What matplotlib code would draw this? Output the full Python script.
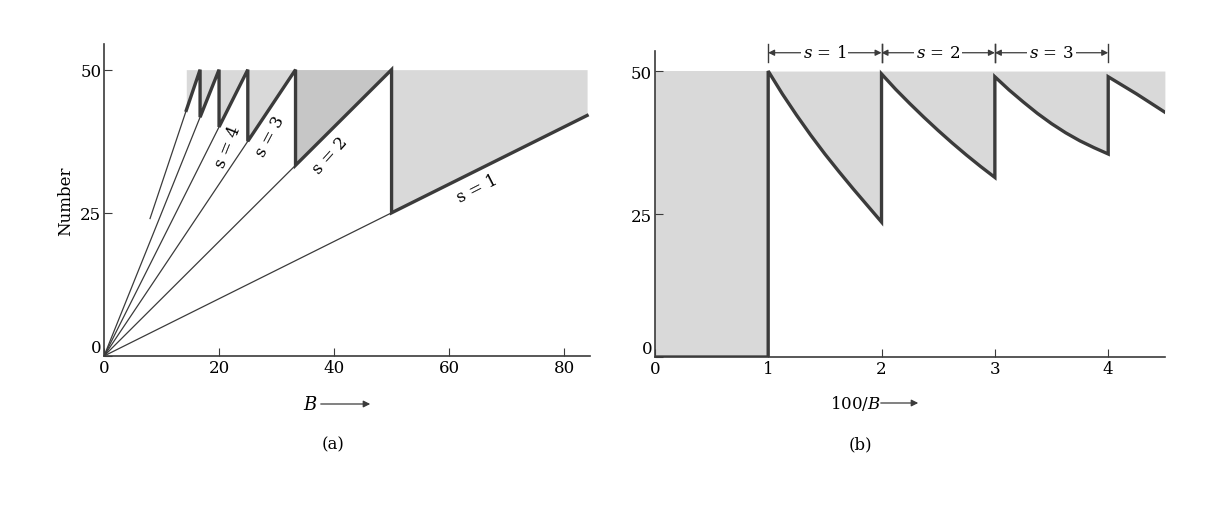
import numpy as np
import matplotlib
matplotlib.use("Agg")
import matplotlib.pyplot as plt

plt.rcParams['font.family'] = ['DejaVu Serif']
plt.rcParams['mathtext.fontset'] = 'dejavuserif'

# ---- panel (a): number vs B ----
# field values where a level empties, and number in filled levels there
B_jump = [50, 33.3, 25, 20, 16.7, 14.3]
N_low = [25, 33.3, 37.5, 40, 41.7, 42.9]
thin_start_B = [0, 0, 0, 0, 0, 8]
thin_start_N = [0, 0, 0, 0, 0, 24]
# sawtooth (heavy line)
saw_B = [14.3, 16.7, 16.7, 20, 20, 25, 25, 33.3, 33.3, 50, 50, 84]
saw_N = [42.9, 50, 41.7, 50, 40, 50, 37.5, 50, 33.3, 50, 25, 42]
a_labels = ['s = 1', 's = 2', 's = 3', 's = 4']
a_lab_B = [65, 39.3, 28.9, 21.6]
a_lab_N = [29.3, 35.2, 38.5, 36.7]
a_lab_rot = [27, 48, 62, 68]

# ---- panel (b): number vs 100/B ----
seg_x = [[1, 1.125, 1.25, 1.375, 1.5, 1.625, 1.75, 1.875, 2],
         [2, 2.125, 2.25, 2.375, 2.5, 2.625, 2.75, 2.875, 3],
         [3, 3.125, 3.25, 3.375, 3.5, 3.625, 3.75, 3.875, 4],
         [4, 4.125, 4.25, 4.375, 4.5]]
seg_y = [[50, 46.0, 42.3, 38.8, 35.5, 32.4, 29.4, 26.5, 23.6],
         [49.5, 46.8, 44.3, 41.9, 39.6, 37.4, 35.3, 33.3, 31.4],
         [49.0, 46.7, 44.6, 42.6, 40.8, 39.2, 37.8, 36.6, 35.5],
         [49.0, 47.5, 46.0, 44.4, 42.8]]
b_labels = ['$s$ = 1', '$s$ = 2', '$s$ = 3']

line_col = '#3b3b3b'
shade = '#d9d9d9'

fig = plt.figure(figsize=(12.24, 5.10), dpi=100)
ax1 = fig.add_axes([0.085, 0.30, 0.397, 0.612])
ax2 = fig.add_axes([0.535, 0.298, 0.4167, 0.60])

# panel a
ax1.fill_between(saw_B, saw_N, 50, color=shade, lw=0)
ax1.fill_between(saw_B[7:10], saw_N[7:10], 50, color='#c6c6c6', lw=0)
for i in range(len(B_jump)):
    ax1.plot([thin_start_B[i], B_jump[i]], [thin_start_N[i], N_low[i]],
             color=line_col, lw=0.9)
ax1.plot(saw_B, saw_N, color=line_col, lw=2.4, solid_joinstyle='miter')
for t, x, y, r in zip(a_labels, a_lab_B, a_lab_N, a_lab_rot):
    ax1.text(x, y, t, rotation=r, ha='center', va='center',
             rotation_mode='anchor', fontsize=12)
ax1.set_xlim(0, 84.5)
ax1.set_ylim(0, 54.5)
ax1.set_xticks([0, 20, 40, 60, 80])
ax1.set_yticks([0, 25, 50])
ax1.set_ylabel('Number', fontsize=12, labelpad=4)

# panel b
ax2.fill_between([0, 1], [0, 0], 50, color=shade, lw=0)
for xs, ys in zip(seg_x, seg_y):
    ax2.fill_between(xs, ys, 50, color=shade, lw=0)
px = [0, 1, 1]
py = [0, 0, 50]
for xs, ys in zip(seg_x, seg_y):
    if px[-1] == xs[0]:
        px.append(xs[0]); py.append(ys[0])
    px += xs
    py += ys
ax2.plot(px, py, color=line_col, lw=2.4, solid_joinstyle='miter')
for k in range(len(b_labels)):
    x0, x1 = k + 1, k + 2
    for xb in (x0, x1):
        ax2.plot([xb, xb], [51.5, 54.8], color=line_col, lw=1, clip_on=False)
    ax2.annotate('', xy=(x0, 53.2), xytext=(x1, 53.2), annotation_clip=False,
                 arrowprops=dict(arrowstyle='<|-|>', color=line_col, lw=0.9,
                                 shrinkA=0, shrinkB=0,
                                 mutation_scale=9))
    ax2.text((x0 + x1) / 2, 53.2, b_labels[k], ha='center', va='center',
             fontsize=12, bbox=dict(fc='white', ec='none', pad=1.5))
ax2.set_xlim(0, 4.5)
ax2.set_ylim(0, 53.5)
ax2.set_xticks([0, 1, 2, 3, 4])
ax2.set_yticks([0, 25, 50])

for ax in (ax1, ax2):
    ax.spines['top'].set_visible(False)
    ax.spines['right'].set_visible(False)
    ax.spines['left'].set_color(line_col)
    ax.spines['bottom'].set_color(line_col)
    ax.spines['left'].set_linewidth(1.2)
    ax.spines['bottom'].set_linewidth(1.2)
    ax.tick_params(direction='in', length=6, labelsize=12, color=line_col,
                   pad=2)
    # lift the y "0" a little so it sits above the x "0", as in the print
    ax.get_yticklabels()[0].set_va('bottom')

# axis captions with arrows
fig.text(310 / 1224, 1 - 405 / 510, '$B$', fontsize=13, ha='center', va='center')
fig.add_artist(matplotlib.patches.FancyArrowPatch(
    (318 / 1224, 1 - 405 / 510), (373 / 1224, 1 - 405 / 510),
    transform=fig.transFigure, arrowstyle='-|>', mutation_scale=10,
    color=line_col, lw=0.9))
fig.text(333 / 1224, 1 - 445 / 510, '(a)', fontsize=12, ha='center', va='center')

fig.text(855 / 1224, 1 - 404 / 510, '100/$B$', fontsize=12, ha='center', va='center')
fig.add_artist(matplotlib.patches.FancyArrowPatch(
    (878 / 1224, 1 - 404 / 510), (921 / 1224, 1 - 404 / 510),
    transform=fig.transFigure, arrowstyle='-|>', mutation_scale=10,
    color=line_col, lw=0.9))
fig.text(860 / 1224, 1 - 445 / 510, '(b)', fontsize=12, ha='center', va='center')

fig.savefig('out.png', dpi=100)
